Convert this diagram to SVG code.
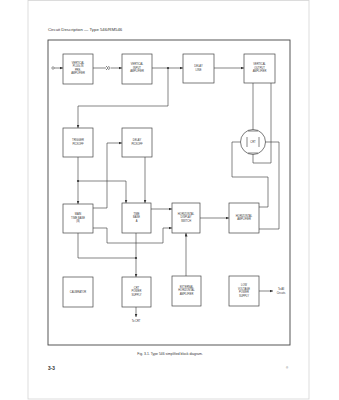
<svg xmlns="http://www.w3.org/2000/svg" width="339" height="400" viewBox="0 0 339 400">
<defs>
<marker id="ah" markerUnits="userSpaceOnUse" markerWidth="4" markerHeight="3" refX="3.5" refY="1.5" orient="auto">
<path d="M0,0 L3.5,1.5 L0,3 Z" fill="#333"/>
</marker>
</defs>
<style>
.box{fill:#fff;stroke:#444;stroke-width:0.7}
.t{font-family:"Liberation Sans",Arial,sans-serif;font-size:2.6px;fill:#333;text-anchor:middle}
.w{fill:none;stroke:#333;stroke-width:0.6}
.a{fill:none;stroke:#333;stroke-width:0.6;marker-end:url(#ah)}
.dot{fill:#333}
</style>
<rect x="0" y="0" width="339" height="400" fill="#fff"/>
<rect x="28" y="0.5" width="281" height="398.5" fill="#fff" stroke="#d4d4d4" stroke-width="0.8"/>
<text x="48" y="30.5" style="font-family:'Liberation Sans',Arial,sans-serif;font-size:4.3px;fill:#333">Circuit Description — Type 546/RM546</text>
<rect x="48" y="40" width="242" height="305" fill="none" stroke="#444" stroke-width="0.9"/>

<g id="connectors">
<circle cx="53" cy="68" r="1.2" fill="none" stroke="#333" stroke-width="0.5"/>
<path class="a" d="M54.2,68 L63,68"/>
<path class="w" d="M93,68 L106,68"/>
<path class="w" d="M106,66 L108,68 L106,70 M108.5,66 Q110.5,68 108.5,70"/>
<path class="a" d="M110.5,68 L122,68"/>
<path class="w" d="M152,68 L168,68"/>
<circle class="dot" cx="168" cy="68" r="1.1"/>
<path class="a" d="M168,68 L183,68"/>
<path class="a" d="M214,68 L244,68"/>
<path class="a" d="M168,68 L168,106 L78,106 L78,128"/>
<path class="w" d="M253,83 L253,131"/>
<path class="w" d="M271,83 L271,163 L253,163 L253,153"/>
<path class="w" d="M247,142 L232,142 L232,177 L268,177 L268,207 L259,207"/>
<path class="w" d="M259,142 L279,142 L279,229 L259,229"/>
<path class="a" d="M78,157 L78,204"/>
<circle class="dot" cx="78" cy="181" r="1.1"/>
<path class="a" d="M78,181 L126,181 L126,203"/>
<path class="a" d="M145,157 L145,203"/>
<path class="a" d="M93,208 L107,208 L107,143 L122,143"/>
<path class="a" d="M93,228 L107,228 L107,243 L163,243 L163,228 L172,228"/>
<path class="a" d="M151,209 L172,209"/>
<path class="w" d="M78,233 L78,258 L136,258"/>
<circle class="dot" cx="136" cy="258" r="1.1"/>
<path class="a" d="M136,233 L136,277"/>
<path class="a" d="M200,218 L229,218"/>
<path class="a" d="M186,276 L186,233"/>
<path class="a" d="M136,307 L136,317"/>
<path class="a" d="M259,291 L273,291"/>
</g>

<g id="vpp"><rect class="box" x="63" y="54" width="30" height="30"/>
<text class="t" x="78" y="63.5">VERTICAL</text><text class="t" x="78" y="67">PLUG-IN</text><text class="t" x="78" y="70.5">PRE-</text><text class="t" x="78" y="74">AMPLIFIER</text></g>
<g id="via"><rect class="box" x="122" y="54" width="30" height="30"/>
<text class="t" x="137" y="65">VERTICAL</text><text class="t" x="137" y="68.5">INPUT</text><text class="t" x="137" y="72">AMPLIFIER</text></g>
<g id="dl"><rect class="box" x="183" y="54" width="31" height="29"/>
<text class="t" x="198.5" y="67">DELAY</text><text class="t" x="198.5" y="70.5">LINE</text></g>
<g id="voa"><rect class="box" x="244" y="54" width="31" height="29"/>
<text class="t" x="259.5" y="65">VERTICAL</text><text class="t" x="259.5" y="68.5">OUTPUT</text><text class="t" x="259.5" y="72">AMPLIFIER</text></g>
<g id="crt"><circle cx="253" cy="142" r="12.5" fill="#fff" stroke="#444" stroke-width="0.7"/>
<path class="w" d="M248,131 L258,131 M248,153 L258,153 M247,137 L247,147 M259,137 L259,147"/>
<text class="t" x="253" y="143">CRT</text></g>
<g id="tp"><rect class="box" x="63" y="128" width="30" height="29"/>
<text class="t" x="78" y="141">TRIGGER</text><text class="t" x="78" y="144.5">PICKOFF</text></g>
<g id="dp"><rect class="box" x="122" y="128" width="30" height="29"/>
<text class="t" x="137" y="141">DELAY</text><text class="t" x="137" y="144.5">PICKOFF</text></g>
<g id="mtb"><rect class="box" x="63" y="204" width="30" height="29"/>
<text class="t" x="78" y="215">MAIN</text><text class="t" x="78" y="218.5">TIME BASE</text><text class="t" x="78" y="222">(B)</text></g>
<g id="tba"><rect class="box" x="122" y="203" width="29" height="30"/>
<text class="t" x="136.5" y="214.5">TIME</text><text class="t" x="136.5" y="218">BASE</text><text class="t" x="136.5" y="221.5">A</text></g>
<g id="hds"><rect class="box" x="172" y="203" width="28" height="30"/>
<text class="t" x="186" y="214.5">HORIZONTAL</text><text class="t" x="186" y="218">DISPLAY</text><text class="t" x="186" y="221.5">SWITCH</text></g>
<g id="ha"><rect class="box" x="229" y="203" width="30" height="30"/>
<text class="t" x="244" y="216.5">HORIZONTAL</text><text class="t" x="244" y="220">AMPLIFIER</text></g>
<g id="cal"><rect class="box" x="63" y="277" width="30" height="30"/>
<text class="t" x="78" y="292.5">CALIBRATOR</text></g>
<g id="crtps"><rect class="box" x="122" y="277" width="29" height="30"/>
<text class="t" x="136.5" y="288.5">CRT</text><text class="t" x="136.5" y="292">POWER</text><text class="t" x="136.5" y="295.5">SUPPLY</text></g>
<g id="eha"><rect class="box" x="172" y="276" width="29" height="30"/>
<text class="t" x="186.5" y="287.5">EXTERNAL</text><text class="t" x="186.5" y="291">HORIZONTAL</text><text class="t" x="186.5" y="294.5">AMPLIFIER</text></g>
<g id="lvps"><rect class="box" x="229" y="276" width="30" height="30"/>
<text class="t" x="244" y="286">LOW</text><text class="t" x="244" y="289.5">VOLTAGE</text><text class="t" x="244" y="293">POWER</text><text class="t" x="244" y="296.5">SUPPLY</text></g>

<text class="t" x="136" y="322">To CRT</text>
<text class="t" x="281" y="290">To All</text>
<text class="t" x="281" y="293.5">Circuits</text>

<text x="170" y="355" style="font-family:'Liberation Sans',Arial,sans-serif;font-size:3.4px;fill:#333;text-anchor:middle">Fig. 3-1. Type 546 simplified block diagram.</text>
<text x="48" y="369.5" style="font-family:'Liberation Sans',Arial,sans-serif;font-size:4.8px;font-weight:bold;fill:#333">3-3</text>
<text x="287" y="369" style="font-family:'Liberation Sans',Arial,sans-serif;font-size:3px;fill:#555;text-anchor:middle">®</text>
</svg>
